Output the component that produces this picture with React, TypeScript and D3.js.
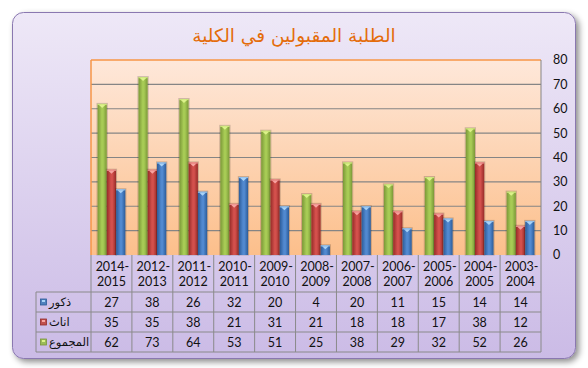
import React from "react";
import * as d3 from "d3";

const categories = ["2014-2015", "2012-2013", "2011-2012", "2010-2011", "2009-2010", "2008-2009", "2007-2008", "2006-2007", "2005-2006", "2004-2005", "2003-2004"];
const males = [27, 38, 26, 32, 20, 4, 20, 11, 15, 14, 14];
const females = [35, 35, 38, 21, 31, 21, 18, 18, 17, 38, 12];
const totals = [62, 73, 64, 53, 51, 25, 38, 29, 32, 52, 26];
const seriesNames = ["المجموع", "اناث", "ذكور"];
const yTicks = [0, 10, 20, 30, 40, 50, 60, 70, 80];
const title = "الطلبة المقبولين في الكلية";

const palette = [
  { id: "g", edge: "#7a9737", mid: "#a7cb55", cap: "#dcf28a", key: "#9bbb59" },
  { id: "r", edge: "#962b28", mid: "#d3504c", cap: "#f7a3a0", key: "#c0504d" },
  { id: "b", edge: "#2b5b98", mid: "#5189d0", cap: "#a9d3f7", key: "#4f81bd" },
];

const FONT = "Lato, 'DejaVu Sans', sans-serif";

export default function App() {
  const W = 588, H = 368;
  const plotL = 91, plotR = 541, plotT = 60, plotB = 255;
  const x = d3.scaleBand<string>().domain(categories).range([plotL, plotR]).padding(0);
  const inner = d3.scaleBand<number>().domain([0, 1, 2]).range([0, x.bandwidth()]).paddingInner(0).paddingOuter(0.7);
  const y = d3.scaleLinear().domain([0, 80]).range([plotB, plotT]);
  const series = [totals, females, males];
  const rows = [
    { name: seriesNames[2], vals: males, p: palette[2] },
    { name: seriesNames[1], vals: females, p: palette[1] },
    { name: seriesNames[0], vals: totals, p: palette[0] },
  ];
  const rowTops = [292, 312, 332];
  const rowH = 20;
  const tableL = 36;

  return (
    <svg width={W} height={H} style={{ position: "absolute", left: 0, top: 0 }} fontFamily={FONT}>
      <defs>
        <linearGradient id="bgGrad" x1="0" y1="0" x2="0" y2="1">
          <stop offset="0" stopColor="#eee8f7" />
          <stop offset="1" stopColor="#cbbbe6" />
        </linearGradient>
        <linearGradient id="plotGrad" x1="0" y1="0" x2="0" y2="1">
          <stop offset="0" stopColor="#fee8da" />
          <stop offset="1" stopColor="#fcbf8b" />
        </linearGradient>
        {palette.map((p) => (
          <linearGradient key={p.id} id={"bar" + p.id} x1="0" y1="0" x2="1" y2="0">
            <stop offset="0" stopColor={p.edge} />
            <stop offset="0.45" stopColor={p.mid} />
            <stop offset="0.6" stopColor={p.mid} />
            <stop offset="1" stopColor={p.edge} />
          </linearGradient>
        ))}
        <filter id="shadow" x="-5%" y="-5%" width="110%" height="115%">
          <feDropShadow dx="3" dy="3" stdDeviation="3" floodColor="#000" floodOpacity="0.45" />
        </filter>
      </defs>

      <rect x={12.5} y={12.5} width={563} height={346} rx={11} fill="url(#bgGrad)" stroke="#8a78b0" strokeWidth={1} filter="url(#shadow)" />

      <text x={294} y={42} textAnchor="middle" fontSize={18.5} fill="#e46c0a" fontFamily="'DejaVu Sans', sans-serif">{title}</text>

      <rect x={plotL} y={plotT} width={plotR - plotL} height={plotB - plotT} fill="url(#plotGrad)" />
      {yTicks.slice(1, -1).map((t) => (
        <line key={t} x1={plotL} x2={plotR} y1={y(t)} y2={y(t)} stroke="#858585" strokeWidth={1.2} />
      ))}
      <line x1={plotL} x2={plotR} y1={plotT} y2={plotT} stroke="#f79646" strokeWidth={1.5} />
      <line x1={plotL} x2={plotL} y1={plotT} y2={plotB} stroke="#f79646" strokeWidth={1.5} />
      <line x1={plotR} x2={plotR} y1={plotT} y2={plotB} stroke="#858585" strokeWidth={1} />

      {categories.map((c, i) =>
        series.map((vals, s) => {
          const p = palette[s];
          const bx = (x(c) as number) + (inner(s) as number);
          const bw = inner.bandwidth();
          const top = y(vals[i]);
          const h = plotB - top;
          const capH = Math.min(4, h);
          return (
            <g key={c + s}>
              <rect x={bx - 0.5} y={top - 0.5} width={bw + 1} height={h + 0.5} fill="none" stroke="#000" strokeOpacity={0.18} />
              <rect x={bx} y={top} width={bw} height={h} fill={`url(#bar${p.id})`} />
              <rect x={bx} y={top} width={bw} height={1.2} fill={p.cap} opacity={0.8} />
              <path d={`M${bx + 1.5},${top + 1} L${bx + bw - 1.5},${top + 1} L${bx + bw / 2},${top + capH} Z`} fill={p.cap} />
            </g>
          );
        })
      )}

      {yTicks.map((t) => (
        <text key={t} x={553} y={y(t)} dy="0.35em" fontSize={12.5} fill="#111">{t}</text>
      ))}

      <g stroke="#8a8a8a" strokeWidth={1} fill="none">
        {categories.map((c) => (
          <line key={c} x1={x(c)} x2={x(c)} y1={plotB} y2={352} />
        ))}
        <line x1={plotR} x2={plotR} y1={plotB} y2={352} />
        <line x1={tableL} x2={tableL} y1={292} y2={352} />
        {[292, 312, 332, 352].map((yy) => (
          <line key={yy} x1={tableL} x2={plotR} y1={yy} y2={yy} />
        ))}
      </g>
      {categories.map((c) => {
        const [a, b] = c.split("-");
        const cx = (x(c) as number) + x.bandwidth() / 2;
        return (
          <g key={c} fontSize={12.5} fill="#111" textAnchor="middle">
            <text x={cx + 1} y={267} dy="0.35em">{a + "-"}</text>
            <text x={cx} y={282} dy="0.35em">{b}</text>
          </g>
        );
      })}
      {rows.map((r, ri) => (
        <g key={r.name}>
          <rect x={40.5} y={rowTops[ri] + 7} width={6} height={6} fill={r.p.key} stroke={r.p.edge} strokeWidth={0.8} />
          <rect x={42} y={rowTops[ri] + 8} width={3} height={2} fill={r.p.cap} />
          <text x={49} y={rowTops[ri] + rowH / 2} dy="0.35em" fontSize={11.5} fill="#111" textAnchor="start" fontFamily="'DejaVu Sans', sans-serif">{r.name}</text>
          {categories.map((c, i) => (
            <text key={c} x={(x(c) as number) + x.bandwidth() / 2} y={rowTops[ri] + rowH / 2 + 1} dy="0.35em" fontSize={12.5} fill="#111" textAnchor="middle">{r.vals[i]}</text>
          ))}
        </g>
      ))}
    </svg>
  );
}
